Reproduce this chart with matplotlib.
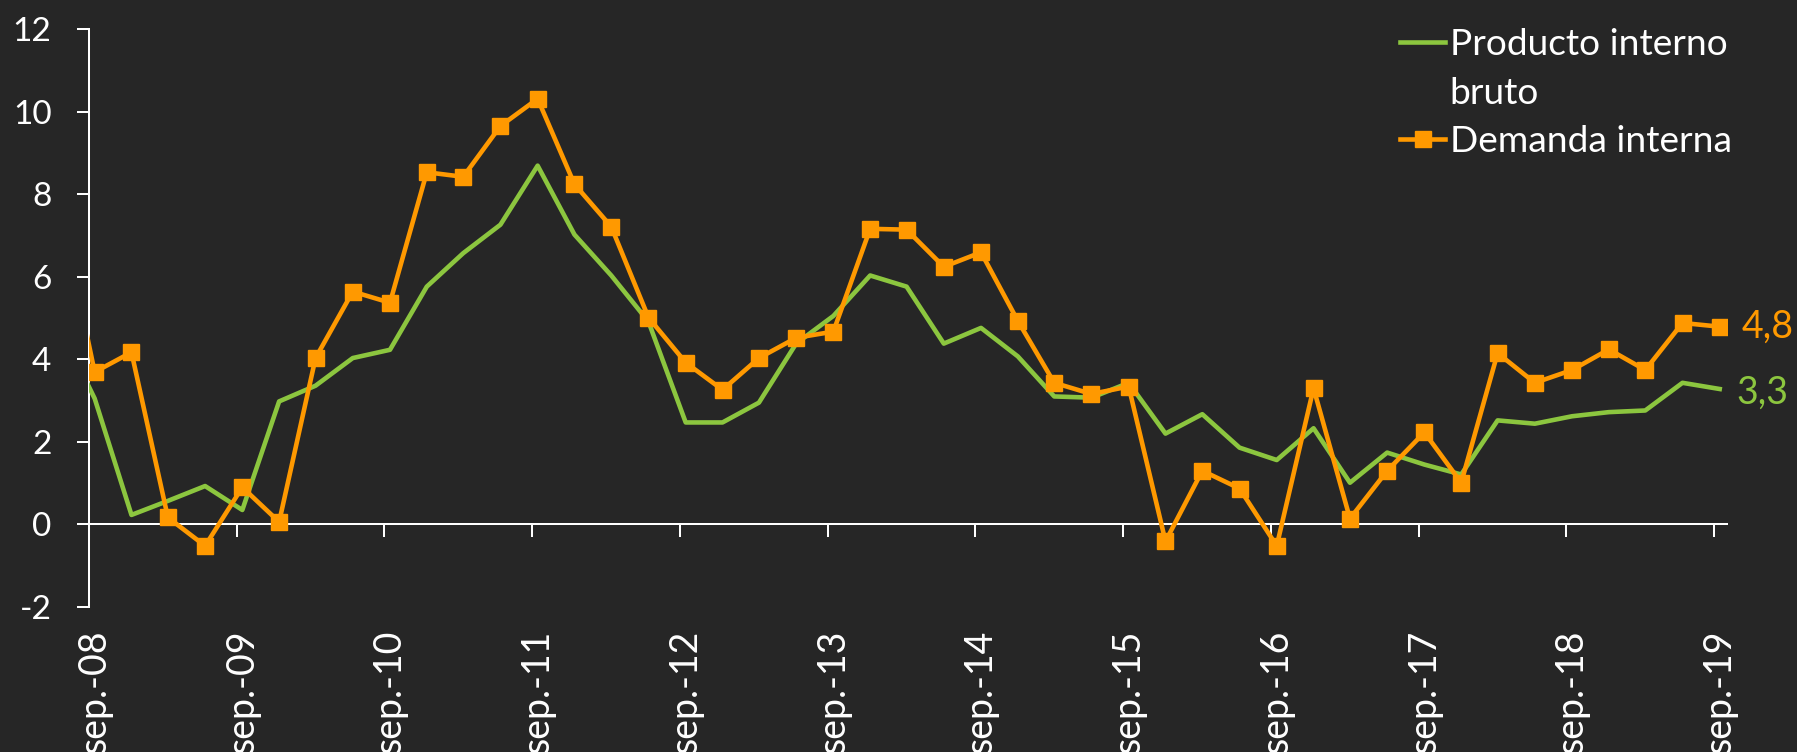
import matplotlib
matplotlib.use('Agg')
import matplotlib.pyplot as plt
from matplotlib.lines import Line2D
from matplotlib.ticker import FixedLocator, FixedFormatter, NullFormatter
import pandas as pd

# trimestres jun-08 .. sep-19 (el primero queda fuera del eje, solo se ve la linea entrando)
fechas = pd.date_range('2008-06-15', periods=46, freq=pd.DateOffset(months=3))

pib = [4.9, 3.05, 0.23, 0.57, 0.93, 0.35, 2.98, 3.36, 4.03, 4.23, 5.76, 6.57, 7.26, 8.69, 7.02,
       6.03, 4.91, 2.47, 2.47, 2.95, 4.38, 5.05, 6.03, 5.76, 4.38, 4.76, 4.07, 3.10, 3.07, 3.43,
       2.20, 2.67, 1.86, 1.56, 2.33, 1.01, 1.74, 1.45, 1.21, 2.52, 2.44, 2.62, 2.72, 2.76, 3.43, 3.28]
demanda = [8.0, 3.69, 4.17, 0.17, -0.52, 0.90, 0.06, 4.03, 5.64, 5.37, 8.53, 8.42, 9.65, 10.31, 8.24,
           7.21, 5.01, 3.92, 3.26, 4.03, 4.52, 4.67, 7.16, 7.14, 6.24, 6.59, 4.93, 3.43, 3.16, 3.34,
           -0.41, 1.30, 0.87, -0.52, 3.30, 0.14, 1.30, 2.23, 1.01, 4.15, 3.43, 3.74, 4.24, 3.74, 4.88, 4.79]

anios = pd.date_range('2008-09-01', '2019-09-01', freq=pd.DateOffset(years=1))
etiquetas = ['sep.-08', 'sep.-09', 'sep.-10', 'sep.-11', 'sep.-12', 'sep.-13',
             'sep.-14', 'sep.-15', 'sep.-16', 'sep.-17', 'sep.-18', 'sep.-19']
yticks = [-2, 0, 2, 4, 6, 8, 10, 12]

FONDO = '#262626'
VERDE = '#8CC63F'
NARANJA = '#FF9900'

plt.rcParams['font.family'] = ['Lato', 'DejaVu Sans']
plt.rcParams['axes.unicode_minus'] = False

fig = plt.figure(figsize=(17.97, 7.52), dpi=100, facecolor=FONDO)
ax = fig.add_axes([89 / 1797, 145 / 752, 1638 / 1797, 578 / 752])
ax.set_facecolor(FONDO)

ax.plot(fechas, pib, color=VERDE, lw=3.3, zorder=3)
ax.plot(fechas, demanda, color=NARANJA, lw=3.3, marker='s', ms=12, zorder=4)

ax.set_xlim(pd.Timestamp('2008-09-01'), pd.Timestamp('2019-10-03'))
ax.set_ylim(-2, 12)

# eje x sobre el cero, etiquetas abajo (ticks menores en el punto del dato)
for s in ['top', 'right']:
    ax.spines[s].set_visible(False)
ax.spines['bottom'].set_position(('data', 0))
for s in ['bottom', 'left']:
    ax.spines[s].set_color('white')
    ax.spines[s].set_linewidth(1.45)

ax.xaxis.set_major_locator(FixedLocator(matplotlib.dates.date2num(anios)))
ax.xaxis.set_major_formatter(NullFormatter())
ax.xaxis.set_minor_locator(FixedLocator(matplotlib.dates.date2num(anios + pd.Timedelta(days=14))))
ax.xaxis.set_minor_formatter(FixedFormatter(etiquetas))
ax.tick_params(axis='x', which='major', direction='out', length=9, width=1.45, color='white')
ax.tick_params(axis='x', which='minor', length=0, pad=75.5, labelsize=27,
               labelcolor='white', labelrotation=90)

ax.set_yticks(yticks)
ax.tick_params(axis='y', direction='out', length=9, width=1.45, color='white',
               labelsize=24, labelcolor='white', pad=18)

# rotulos finales
for serie, col, dx, dy in [(demanda, NARANJA, 15.5, 0), (pib, VERDE, 12, -3)]:
    ax.annotate(f'{serie[-1]:.1f}'.replace('.', ','), (fechas[-1], serie[-1]),
                xytext=(dx, dy), textcoords='offset points', va='center', ha='left',
                color=col, fontsize=27, annotation_clip=False)

h_pib = Line2D([], [], color=VERDE, lw=3.3)
h_vacio = Line2D([], [], color=FONDO, lw=0)
h_dem = Line2D([], [], color=NARANJA, lw=3.3, marker='s', ms=12)
leg = ax.legend([h_pib, h_vacio, h_dem], ['Producto interno', 'bruto', 'Demanda interna'],
                loc='upper left', bbox_to_anchor=(1400 / 1797, 1 - 28 / 752),
                bbox_transform=fig.transFigure, frameon=False, borderpad=0, borderaxespad=0,
                handlelength=1.22, handletextpad=0.12, labelspacing=0.42, fontsize=26.7)
for t in leg.get_texts():
    t.set_color('white')

fig.savefig('out.png', dpi=100, facecolor=FONDO)
